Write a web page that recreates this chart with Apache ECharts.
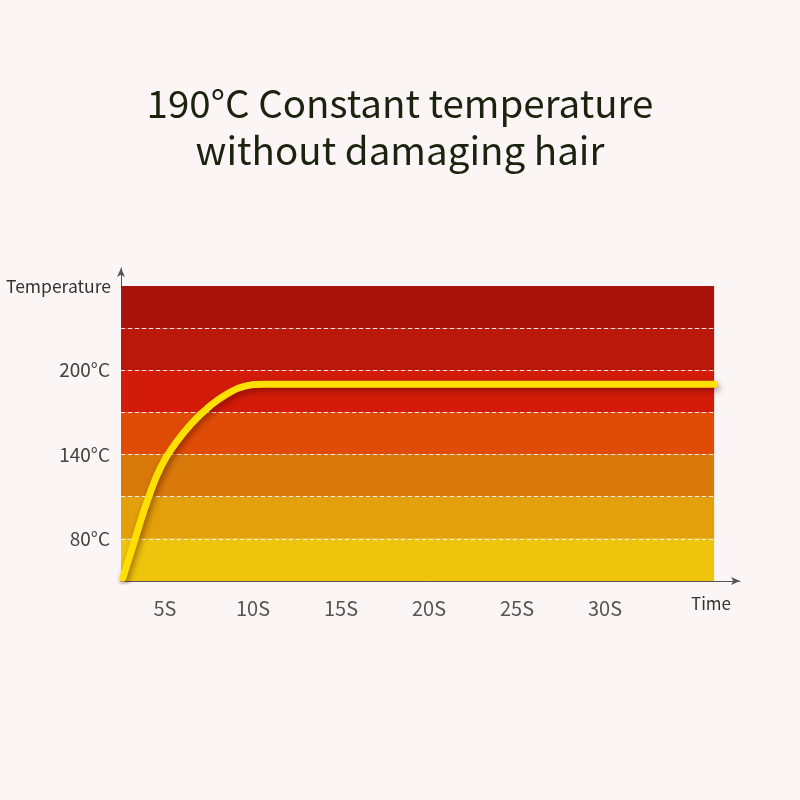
<!DOCTYPE html>
<html>
<head>
<meta charset="utf-8">
<script src="https://cdn.jsdelivr.net/npm/echarts@6/dist/echarts.min.js"></script>
<style>html,body{margin:0;padding:0;background:#fbf6f5;}#c{width:800px;height:800px;}</style>
</head>
<body>
<div id="c"></div>
<script>
// ---- data ----
const titleText = "190°C Constant temperature\nwithout damaging hair";
const timeS = [2.6, 3.3, 4.05, 4.8, 5.6, 6.5, 7.5, 8.5, 9.5, 10.6, 36.2];
const tempC = [52, 80, 109, 132, 148, 162, 174, 183, 188.5, 190, 190];
const xTickValues = [5, 10, 15, 20, 25, 30];
const yTickValues = [80, 140, 200];
const bandEdges = [50, 80, 110, 140, 170, 200, 230, 260];
const bandStart = 2.5, bandEnd = 36.2;
const bandColors = ['#efc40d', '#e3a00b', '#d9790a', '#e04c06', '#d31b09', '#ba180a', '#a8130a'];

const lineData = timeS.map((t, i) => [t, tempC[i]]);
const areas = [];
for (let i = 0; i < bandEdges.length - 1; i++) {
  areas.push([
    { xAxis: bandStart, yAxis: bandEdges[i], itemStyle: { color: bandColors[i] } },
    { xAxis: bandEnd, yAxis: bandEdges[i + 1] }
  ]);
}
const dashLines = bandEdges.slice(1, -1).map(v => [
  { coord: [bandStart, v] }, { coord: [bandEnd, v] }
]);

const chart = echarts.init(document.getElementById('c'));
const font = '"Noto Sans CJK SC", "Noto Sans", sans-serif';
chart.setOption({
  backgroundColor: '#fbf6f5',
  animation: false,
  textStyle: { fontFamily: font },
  title: {
    text: titleText,
    left: 'center',
    top: 75,
    textStyle: { fontFamily: font, fontSize: 38.5, fontWeight: 'normal', color: '#1b230f', lineHeight: 47 }
  },
  grid: { left: 121, right: 60, top: 268, bottom: 219 },
  xAxis: {
    type: 'value',
    min: 2.5,
    max: 37.67,
    name: 'Time',
    nameLocation: 'end',
    nameGap: -29,
    nameTextStyle: { fontFamily: font, fontSize: 17, color: '#333', align: 'center', verticalAlign: 'top', padding: [14, 0, 0, 0] },
    axisLine: { show: true, lineStyle: { color: '#555', width: 1 }, symbol: ['none', 'arrow'], symbolSize: [6, 9] },
    axisTick: { show: false },
    splitLine: { show: false },
    axisLabel: {
      customValues: xTickValues,
      formatter: v => v + 'S',
      fontSize: 20, color: '#555', margin: 17, fontFamily: font
    }
  },
  yAxis: {
    type: 'value',
    min: 50,
    max: 272.8,
    name: 'Temperature',
    nameLocation: 'end',
    nameGap: -18,
    nameTextStyle: { fontFamily: font, fontSize: 17.5, color: '#333', align: 'right', verticalAlign: 'middle', padding: [2, 10, 0, 0] },
    axisLine: { show: true, lineStyle: { color: '#555', width: 1 }, symbol: ['none', 'arrow'], symbolSize: [6, 9] },
    axisTick: { show: false },
    splitLine: { show: false },
    axisLabel: {
      customValues: yTickValues,
      formatter: v => v + '°C',
      fontSize: 19, color: '#444', margin: 11, fontFamily: font, padding: [8, 0, 0, 0]
    }
  },
  series: [{
    type: 'line',
    data: lineData,
    smooth: 0.5,
    showSymbol: false,
    z: 5,
    lineStyle: {
      color: '#ffe000', width: 7, cap: 'round',
      shadowColor: 'rgba(60,0,0,0.45)', shadowBlur: 6, shadowOffsetX: 2, shadowOffsetY: 3
    },
    markArea: { silent: true, z: 1, data: areas },
    markLine: {
      silent: true, z: 2, symbol: 'none', label: { show: false },
      lineStyle: { color: 'rgba(255,255,255,0.85)', type: [4, 3], width: 1 },
      data: dashLines
    }
  }]
});
</script>
</body>
</html>
